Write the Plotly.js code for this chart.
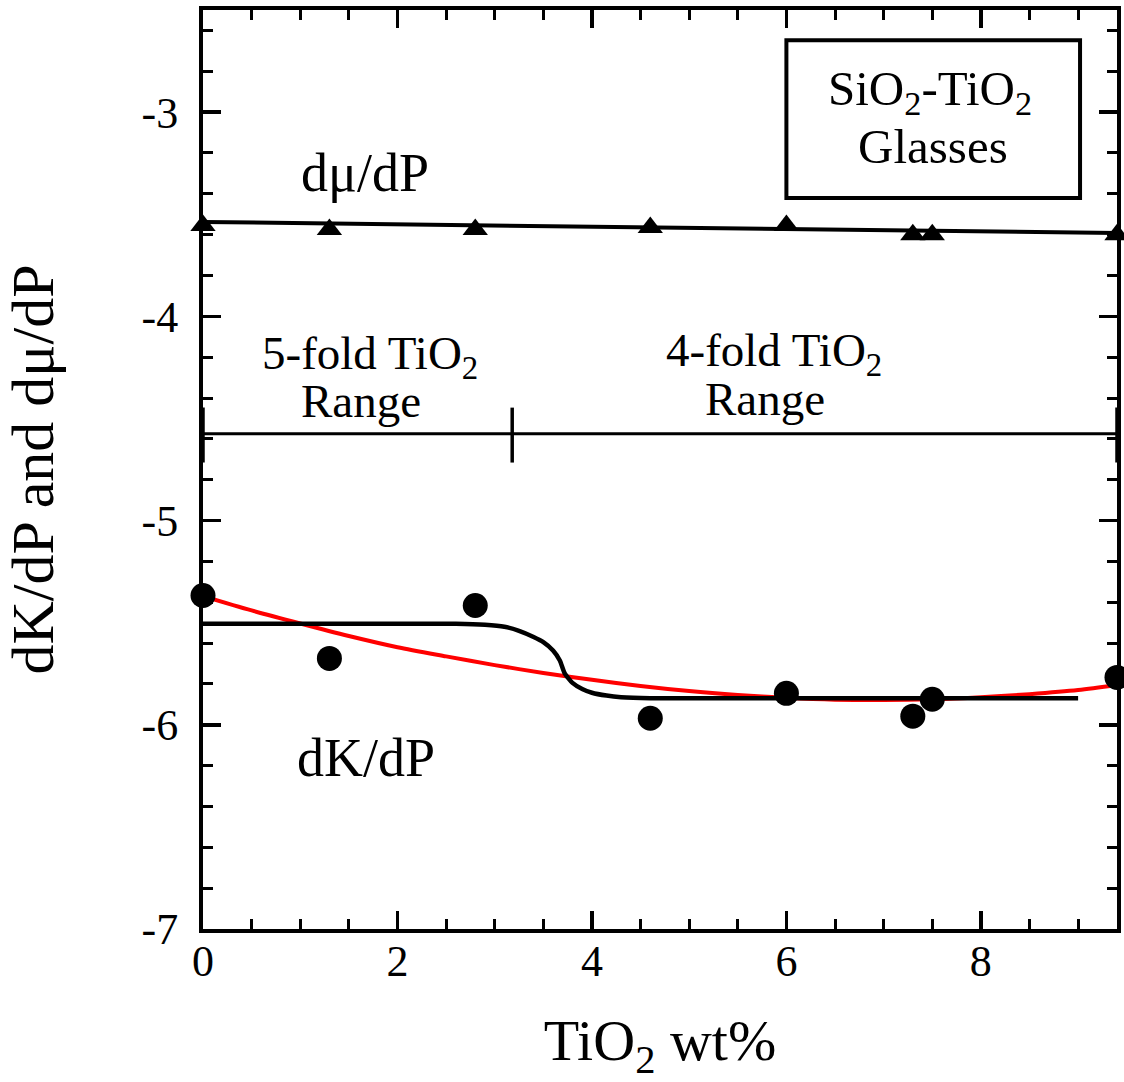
<!DOCTYPE html>
<html>
<head>
<meta charset="utf-8">
<script src="https://cdn.plot.ly/plotly-3.0.1.min.js"></script>
<style>html,body{margin:0;padding:0;background:#fff;}#chart{width:1124px;height:1082px;}</style>
</head>
<body>
<div id="chart"></div>
<script>
// ---- data ----
const tioWt = [0, 1.3, 2.8, 4.6, 6.0, 7.3, 7.5, 9.4];
const dMuDP = [-3.555, -3.575, -3.575, -3.565, -3.555, -3.60, -3.60, -3.60];
const dKDP  = [-5.367, -5.675, -5.416, -5.968, -5.846, -5.958, -5.875, -5.768];

// linear fit to dmu/dP
const muFitX = [0, 9.4];
const muFitY = [-3.538, -3.592];

// step-like (black) curve through dK/dP
const stepX = [0, 2.6, 2.9, 3.1, 3.25, 3.4, 3.5, 3.6, 3.67, 3.72, 3.8, 3.9, 4.0, 4.15, 4.3, 4.6, 9.0];
const stepY = [-5.505, -5.505, -5.51, -5.52, -5.54, -5.57, -5.595, -5.636, -5.685, -5.748, -5.795, -5.825, -5.843, -5.857, -5.865, -5.87, -5.87];

// smooth (red) fit through dK/dP
const redX = [0, 0.5, 1, 1.5, 2, 2.5, 3, 3.5, 4, 4.5, 5, 5.5, 6, 6.5, 7, 7.5, 8, 8.5, 9, 9.4];
const redY = [-5.37, -5.44, -5.504, -5.565, -5.62, -5.665, -5.708, -5.746, -5.78, -5.81, -5.835, -5.854, -5.868, -5.877, -5.879, -5.875, -5.865, -5.85, -5.83, -5.805];

// coordination range bar
const rangeBarX = [0, 9.4];
const rangeBarY = [-4.575, -4.575];
const rangeTickX = [0, 3.18, 9.4];
const rangeTickTop = -4.447;
const rangeTickBottom = -4.716;

// axis ticks
const xTickVals = [0, 2, 4, 6, 8];
const xTickText = ["0", "2", "4", "6", "8"];
const yTickVals = [-7, -6, -5, -4, -3];
const yTickText = ["-7", "-6", "-5", "-4", "-3"];

// ---- build ----
const FONT = "Liberation Serif, 'Times New Roman', Times, serif";
const segX = [], segY = [];
rangeTickX.forEach(x => { segX.push(x, x, null); segY.push(rangeTickTop, rangeTickBottom, null); });

const traces = [
  {x: rangeBarX, y: rangeBarY, mode: 'lines', line: {color: 'black', width: 3}, hoverinfo: 'skip'},
  {x: segX, y: segY, mode: 'lines', line: {color: 'black', width: 3.5}, hoverinfo: 'skip', cliponaxis: false},
  {x: muFitX, y: muFitY, mode: 'lines', line: {color: 'black', width: 4}},
  {x: redX, y: redY, mode: 'lines', line: {color: '#ff0000', width: 4, shape: 'spline', smoothing: 0.8}},
  {x: stepX, y: stepY, mode: 'lines', line: {color: 'black', width: 4.5, shape: 'spline', smoothing: 0.5}},
  {x: tioWt, y: dMuDP, mode: 'markers', marker: {symbol: 'triangle-up', size: 22, color: 'black'}, cliponaxis: false},
  {x: tioWt, y: dKDP, mode: 'markers', marker: {symbol: 'circle', size: 25, color: 'black'}, cliponaxis: false}
];

const bigFont = {family: FONT, size: 54, color: 'black'};
const rangeFont = {family: FONT, size: 47, color: 'black'};
const boxFont = {family: FONT, size: 49, color: 'black'};
const layout = {
  width: 1124, height: 1082,
  margin: {l: 203, r: 7, t: 10, b: 153},
  paper_bgcolor: 'white', plot_bgcolor: 'white',
  showlegend: false,
  font: {family: FONT, color: 'black'},
  xaxis: {
    range: [0, 9.4], tickvals: xTickVals, ticktext: xTickText,
    ticks: 'inside', ticklen: 18, tickwidth: 3.5, tickcolor: 'black',
    showline: true, linewidth: 4, linecolor: 'black', mirror: 'allticks',
    minor: {dtick: 0.5, tick0: 0, ticks: 'inside', ticklen: 10, tickwidth: 3, tickcolor: 'black'},
    showgrid: false, zeroline: false,
    tickfont: {family: FONT, size: 44, color: 'black'},
    ticklabelstandoff: -10,
    title: {text: 'TiO<sub>2</sub> wt%', font: {family: FONT, size: 58, color: 'black'}, standoff: 36}
  },
  yaxis: {
    range: [-7, -2.5], tickvals: yTickVals, ticktext: yTickText,
    ticks: 'inside', ticklen: 18, tickwidth: 3.5, tickcolor: 'black',
    showline: true, linewidth: 4, linecolor: 'black', mirror: 'allticks',
    minor: {dtick: 0.2, tick0: -7, ticks: 'inside', ticklen: 10, tickwidth: 3, tickcolor: 'black'},
    showgrid: false, zeroline: false,
    tickfont: {family: FONT, size: 44, color: 'black'},
    ticklabelstandoff: 12,
    title: {text: 'dK/dP and dμ/dP', font: {family: FONT, size: 60, color: 'black'}, standoff: 78}
  },
  shapes: [
    {type: 'rect', xref: 'x', yref: 'y', x0: 6.0, x1: 9.02, y0: -3.42, y1: -2.648, line: {color: 'black', width: 4}}
  ],
  annotations: [
    {x: 1.667, y: -3.30, xref: 'x', yref: 'y', text: 'dμ/dP', showarrow: false, font: bigFont},
    {x: 1.677, y: -6.165, xref: 'x', yref: 'y', text: 'dK/dP', showarrow: false, font: bigFont},
    {x: 1.718, y: -4.198, xref: 'x', yref: 'y', text: '5-fold TiO<sub>2</sub>', showarrow: false, font: rangeFont},
    {x: 1.625, y: -4.413, xref: 'x', yref: 'y', text: 'Range', showarrow: false, font: rangeFont},
    {x: 5.874, y: -4.183, xref: 'x', yref: 'y', text: '4-fold TiO<sub>2</sub>', showarrow: false, font: rangeFont},
    {x: 5.78, y: -4.403, xref: 'x', yref: 'y', text: 'Range', showarrow: false, font: rangeFont},
    {x: 7.48, y: -2.90, xref: 'x', yref: 'y', text: 'SiO<sub>2</sub>-TiO<sub>2</sub>', showarrow: false, font: boxFont},
    {x: 7.51, y: -3.166, xref: 'x', yref: 'y', text: 'Glasses', showarrow: false, font: boxFont}
  ]
};

Plotly.newPlot('chart', traces, layout, {displayModeBar: false, staticPlot: true});
</script>
</body>
</html>
